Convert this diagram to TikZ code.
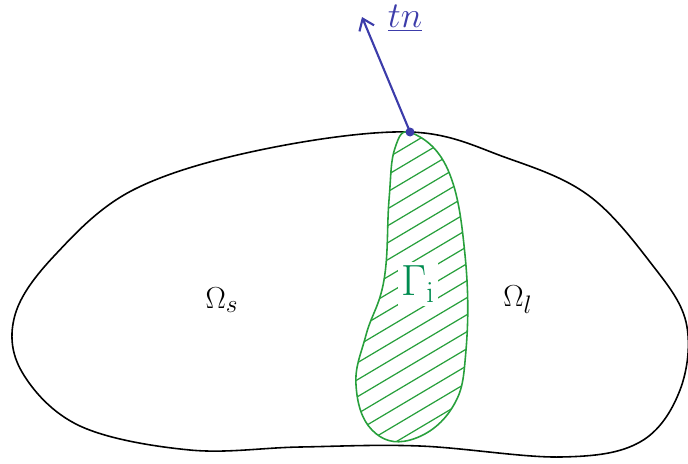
\documentclass[tikz,border=0pt]{standalone}
\usetikzlibrary{arrows.meta}
\definecolor{blobgreen}{RGB}{40,160,60}
\definecolor{labgreen}{RGB}{0,140,80}
\definecolor{arrowblue}{RGB}{60,60,170}
\tikzset{
  outline/.style={draw=black, line width=0.9pt},
  region/.style={draw=blobgreen, line width=0.9pt},
  hatch/.style={draw=blobgreen, line width=0.7pt},
  omlabel/.style={font=\fontsize{19}{22}\selectfont},
}
\begin{document}
\begin{tikzpicture}[x=0.02cm,y=-0.02cm]
\useasboundingbox (0,0) rectangle (688,463);
% outer domain
\draw[outline] plot[smooth cycle, tension=0.6] coordinates {
 (410,132) (507,158) (588,195) (650,262) (686,322) (680,390) (640,442)
 (560,457) (420,446) (300,447) (190,450) (80,426) (22,372) (15,315)
 (55,255) (133,190) (260,150)};
% green region
\def\greenpath{plot[smooth cycle, tension=0.7] coordinates {
 (412,133) (448,170) (465,255) (466,350) (452,408) (410,440) (372,430)
 (356,385) (366,335) (384,280) (389,200) (395,148)}}
\begin{scope}
 \clip \greenpath;
 \foreach \k in {0,...,22} {
   \draw[hatch] (330,{175+17*\k}) -- (490,{175+17*\k-95});
 }
\end{scope}
\draw[region] \greenpath;
% labels
\node[fill=white, inner sep=2pt, text=labgreen, font=\fontsize{27}{30}\selectfont] (gam) at (418,284) {$\Gamma_{\mathrm{i}}$};
\node[omlabel] (oms) at (222,300) {$\Omega_s$};
\node[omlabel] (oml) at (518,300) {$\Omega_l$};
% normal
\coordinate (p) at (410,132);
\coordinate (tip) at (362,17);
\fill[arrowblue] (p) circle (4.5);
\draw[arrowblue, line width=1.2pt, -{Straight Barb[length=6pt,width=9pt]}] (p) -- (tip);
\node[text=arrowblue, font=\fontsize{20}{24}\selectfont] (tn) at (405,18) {$\underline{tn}$};
\end{tikzpicture}
\end{document}
